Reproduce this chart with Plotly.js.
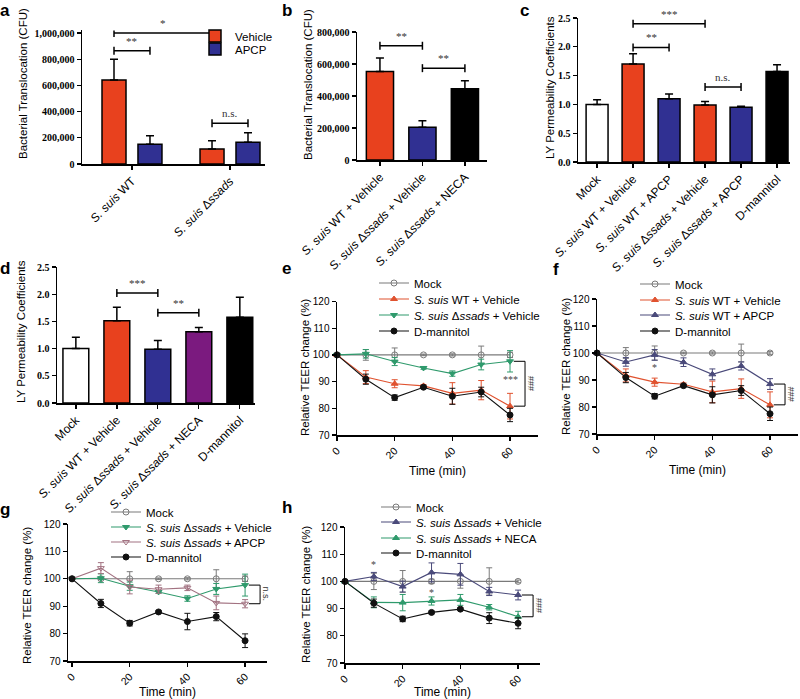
<!DOCTYPE html>
<html><head><meta charset="utf-8">
<script src="https://cdn.plot.ly/plotly-3.0.1.min.js"></script>
<style>html,body{margin:0;padding:0;background:#fff}#chart{width:800px;height:699px}</style>
</head><body><div id="chart"></div>
<script>
// ---------------- DATA ----------------
// Panel a
const catA = ['<i>S. suis</i> WT', '<i>S. suis</i> Δ<i>ssads</i>'];
const vehA = [641000, 115000];
const vehAErr = [159000, 63000];
const apcpA = [150000, 166000];
const apcpAErr = [66000, 73000];
// brackets: [group1, series1, group2, series2, level, label]  series 0=Vehicle 1=APCP
const sigA = [[0,0,1,0,1000000,'*'],[0,0,0,1,865000,'**'],[1,0,1,1,311000,'n.s.']];

// Panel b
const catB = ['<i>S. suis</i> WT + Vehicle', '<i>S. suis</i> Δ<i>ssads</i> + Vehicle', '<i>S. suis</i> Δ<i>ssads</i> + NECA'];
const valB = [553000, 205000, 445000];
const errB = [84000, 41000, 50000];
const sigB = [[0,1,714000,'**'],[1,2,574000,'**']];

// Panel c
const catC = ['Mock', '<i>S. suis</i> WT + Vehicle', '<i>S. suis</i> WT + APCP', '<i>S. suis</i> Δ<i>ssads</i> + Vehicle', '<i>S. suis</i> Δ<i>ssads</i> + APCP', 'D-mannitol'];
const valC = [1.00, 1.70, 1.10, 0.99, 0.95, 1.57];
const errC = [0.08, 0.18, 0.08, 0.06, 0.02, 0.12];
const sigC = [[1,3,2.40,'***'],[1,2,1.99,'**'],[3,4,1.30,'n.s.']];

// Panel d
const catD = ['Mock', '<i>S. suis</i> WT + Vehicle', '<i>S. suis</i> Δ<i>ssads</i> + Vehicle', '<i>S. suis</i> Δ<i>ssads</i> + NECA', 'D-mannitol'];
const valD = [1.00, 1.51, 0.99, 1.31, 1.575];
const errD = [0.21, 0.25, 0.16, 0.08, 0.37];
const sigD = [[1,2,2.02,'***'],[2,3,1.66,'**']];

// Time course panels
const time = [0, 10, 20, 30, 40, 50, 60];
const timeTicks = [0, 20, 40, 60];
const yTicksTEER = [70, 80, 90, 100, 110, 120];

// e
const mockE = [100, 100, 100, 100, 100, 100, 100];
const mockEErr = [0, 2, 2.6, 0.3, 0.4, 3.3, 1];
const wtVehE = [100, 91.7, 89.2, 88.4, 85.6, 86.8, 80.8];
const wtVehEErr = [0, 2.4, 1.5, 0.5, 4, 3.6, 4.8];
const ssVehE = [100, 100.4, 97.5, 95.1, 93.0, 96.4, 97.6];
const ssVehEErr = [0, 1.6, 1.5, 0.5, 1, 2, 4];
const dmanE = [100, 90.9, 84.0, 87.9, 84.5, 86.1, 77.5];
const dmanEErr = [0, 1.9, 1, 0.5, 3, 1.8, 2.5];

// f
const mockF = [100, 100, 100, 100, 100, 100, 100];
const mockFErr = [0, 2, 2.6, 0.3, 0.4, 3.3, 0.5];
const wtVehF = [100, 91.7, 89.2, 88.4, 85.6, 86.8, 80.8];
const wtVehFErr = [0, 2.4, 1.5, 0.5, 4, 3.6, 4.8];
const wtApcpF = [100, 96.7, 99.3, 96.6, 92.1, 95.2, 88.5];
const wtApcpFErr = [0, 1.6, 2, 1.6, 2, 1.5, 2];
const dmanF = [100, 90.9, 84.0, 87.9, 84.5, 86.1, 77.5];
const dmanFErr = [0, 1.9, 1, 0.5, 3, 1.8, 2.5];

// g
const mockG = [100, 100, 100, 100, 100, 100, 100];
const mockGErr = [0, 0.3, 2.6, 0.3, 0.4, 3.3, 1];
const ssVehG = [100, 100.2, 97.3, 95.2, 92.8, 96.3, 97.7];
const ssVehGErr = [0, 1.6, 1.5, 0.5, 1, 2, 4];
const ssApcpG = [100, 103.9, 97.0, 96.2, 96.7, 91.2, 90.9];
const ssApcpGErr = [0, 2, 2.5, 1.5, 1, 2.5, 1.5];
const dmanG = [100, 91.0, 83.8, 87.9, 84.4, 86.2, 77.4];
const dmanGErr = [0, 1.5, 1, 0.5, 3, 1.5, 2.5];

// h
const mockH = [100, 100, 100, 100, 100, 100, 100];
const mockHErr = [0, 3, 4, 0.8, 2.5, 5, 0.5];
const ssVehH = [100, 101.8, 98.1, 103.3, 102.6, 96.3, 95.0];
const ssVehHErr = [0, 1.5, 2, 3.5, 4, 1.5, 1.8];
const ssNecaH = [100, 92.3, 92.2, 92.8, 93.2, 90.5, 87.0];
const ssNecaHErr = [0, 2, 3, 1.5, 2, 1, 2];
const dmanH = [100, 92.0, 86.2, 88.6, 89.8, 86.5, 84.6];
const dmanHErr = [0, 1.5, 1, 0.5, 0.5, 2, 2];

// significance marks on time panels: [xValue, yValue, label]
const starsE = [[60, 90.6, '***']];
const starsF = [[20, 94.5, '*']];
const starsH = [[10, 106.3, '*'], [30, 95.8, '*']];
// right-side brackets: [yTop, yBottom, label]
const brE = [97.6, 80.8, '###'];
const brF = [88.5, 80.8, '###'];
const brG = [97.7, 90.9, 'n.s.'];
const brH = [95.0, 87.0, '###'];

// ---------------- STYLE ----------------
const W = 800, H = 699;
const SANS = '"Liberation Sans", Arial, sans-serif';
const SERIF = '"Liberation Serif", "Times New Roman", serif';
const RED = '#e8411e', BLUE = '#303092', PURPLE = '#7b1a7f', BLK = '#000000';
const C_MOCK = '#7a7a7a', C_RED = '#e0522f', C_GREEN = '#2f9a6c', C_SLATE = '#4a4a7a', C_MAUVE = '#a27281', C_DM = '#111111';

const px = p => p / W;
const py = p => 1 - p / H;
const dom = (a, b) => [px(a), px(b)];
const domY = (top, bottom) => [py(bottom), py(top)];

const traces = [];
const layout = {
  width: W, height: H, margin: {l: 0, r: 0, t: 0, b: 0},
  paper_bgcolor: '#ffffff', plot_bgcolor: 'rgba(0,0,0,0)',
  showlegend: true, shapes: [], annotations: [], hovermode: false,
  font: {family: SANS, color: '#000'}
};

let legendCount = 0;
function legendFor(textX, rowY) {
  legendCount++;
  const name = legendCount === 1 ? 'legend' : 'legend' + legendCount;
  layout[name] = {
    x: px(textX - 43), y: py(rowY), xanchor: 'left', yanchor: 'middle',
    bgcolor: 'rgba(0,0,0,0)', borderwidth: 0, itemwidth: 30,
    font: {family: SANS, size: 11.5, color: '#000'}, itemclick: false, itemdoubleclick: false
  };
  return name;
}

function yTitle(text, x, y) {
  layout.annotations.push({xref: 'paper', yref: 'paper', x: px(x), y: py(y), text: text, textangle: -90,
    showarrow: false, xanchor: 'center', yanchor: 'middle', font: {family: SANS, size: 11.5, color: '#000'}});
}

function barXAxis(domain, range, cats, anchor) {
  return {
    domain: domain, range: range, anchor: anchor, type: 'linear',
    tickvals: cats.map((c, i) => i), ticktext: cats, tickangle: -45,
    ticks: 'outside', ticklen: 4, tickwidth: 1.3, tickcolor: '#000',
    showline: true, linewidth: 1.5, linecolor: '#000', showgrid: false, zeroline: false,
    tickfont: {family: SANS, size: 12, color: '#000'}, fixedrange: true
  };
}
function barYAxis(domain, range, dtick, fmt, anchor) {
  return {
    domain: domain, range: range, anchor: anchor, dtick: dtick, tick0: 0, tickformat: fmt,
    ticks: 'outside', ticklen: 4, tickwidth: 1.3, tickcolor: '#000',
    showline: true, linewidth: 1.5, linecolor: '#000', showgrid: false, zeroline: false,
    tickfont: {family: SERIF, size: 10, weight: 'bold', color: '#000'},
    fixedrange: true
  };
}
function timeXAxis(domain, range, anchor) {
  return {
    domain: domain, range: range, anchor: anchor, tickvals: timeTicks, tickangle: -45,
    ticks: 'outside', ticklen: 4, tickwidth: 1.3, tickcolor: '#000',
    showline: true, linewidth: 1.5, linecolor: '#000', showgrid: false, zeroline: false,
    tickfont: {family: SANS, size: 10.5, color: '#000'},
    title: {text: 'Time (min)', font: {family: SANS, size: 12, color: '#000'}, standoff: 6},
    fixedrange: true
  };
}
function timeYAxis(domain, anchor) {
  return {
    domain: domain, range: [70, 120], anchor: anchor, tickvals: yTicksTEER,
    ticks: 'outside', ticklen: 4, tickwidth: 1.3, tickcolor: '#000',
    showline: true, linewidth: 1.5, linecolor: '#000', showgrid: false, zeroline: false,
    tickfont: {family: SANS, size: 10, color: '#000'},
    fixedrange: true
  };
}

function errBar(arr) {
  return {type: 'data', symmetric: false, array: arr, arrayminus: arr.map(() => 0),
          visible: true, color: '#000', thickness: 1.5, width: 4};
}

function sigBracket(xa, ya, x1, x2, level, label) {
  layout.shapes.push({type: 'line', xref: xa, yref: ya, x0: x1, x1: x2, y0: level, y1: level, line: {color: '#000', width: 1.5}});
  [x1, x2].forEach(x => layout.shapes.push({type: 'line', xref: xa, yref: ya, x0: x, x1: x,
    ysizemode: 'pixel', yanchor: level, y0: -4, y1: 4, line: {color: '#000', width: 1.5}}));
  layout.annotations.push({xref: xa, yref: ya, x: (x1 + x2) / 2, y: level, text: label, showarrow: false,
    yanchor: 'bottom', yshift: 2, font: {family: SERIF, size: 11, color: '#333'}});
}

// ---------------- PANEL a ----------------
const offA = [-0.306, 0.061], widA = 0.245;
layout.xaxis = barXAxis(dom(82, 265), [-0.51, 1.357], catA, 'y');
layout.yaxis = barYAxis(domY(164 - 131 * 1.02, 164), [0, 1020000], 200000, ',', 'x');
yTitle('Bacterial Translocation (CFU)', 23, 84);
[[vehA, vehAErr, RED, 'Vehicle', 36], [apcpA, apcpAErr, BLUE, 'APCP', 49]].forEach((s, k) => {
  traces.push({type: 'bar', x: catA.map((c, i) => i), y: s[0], offset: offA[k], width: widA,
    marker: {color: s[2], line: {color: '#000', width: 1.5}}, error_y: errBar(s[1]),
    xaxis: 'x', yaxis: 'y', name: s[3], legend: legendFor(238, s[4])});
});
sigA.forEach(s => sigBracket('x', 'y', s[0] + offA[s[1]] + widA / 2, s[2] + offA[s[3]] + widA / 2, s[4], s[5]));

// ---------------- PANEL b ----------------
layout.xaxis2 = barXAxis(dom(357, 487), [-0.54, 2.52], catB, 'y2');
layout.yaxis2 = barYAxis(domY(32, 160), [0, 800000], 200000, ',', 'x2');
yTitle('Bacterial Translocation (CFU)', 308, 85);
traces.push({type: 'bar', x: catB.map((c, i) => i), y: valB, width: 0.64,
  marker: {color: [RED, BLUE, BLK], line: {color: '#000', width: 1.5}}, error_y: errBar(errB),
  xaxis: 'x2', yaxis: 'y2', showlegend: false});
sigB.forEach(s => sigBracket('x2', 'y2', s[0], s[1], s[2], s[3]));

// ---------------- PANEL c ----------------
layout.xaxis3 = barXAxis(dom(578, 790), [-0.53, 5.36], catC, 'y3');
layout.yaxis3 = barYAxis(domY(18, 162), [0, 2.5], 0.5, '.1f', 'x3');
yTitle('LY Permeability Coefficients', 550, 88);
traces.push({type: 'bar', x: catC.map((c, i) => i), y: valC, width: 0.61,
  marker: {color: ['#ffffff', RED, BLUE, RED, BLUE, BLK], line: {color: '#000', width: 1.5}}, error_y: errBar(errC),
  xaxis: 'x3', yaxis: 'y3', showlegend: false});
sigC.forEach(s => sigBracket('x3', 'y3', s[0], s[1], s[2], s[3]));

// ---------------- PANEL d ----------------
layout.xaxis4 = barXAxis(dom(57, 255), [-0.46, 4.37], catD, 'y4');
layout.yaxis4 = barYAxis(domY(267, 403), [0, 2.5], 0.5, '.1f', 'x4');
yTitle('LY Permeability Coefficients', 21, 332);
traces.push({type: 'bar', x: catD.map((c, i) => i), y: valD, width: 0.63,
  marker: {color: ['#ffffff', RED, BLUE, PURPLE, BLK], line: {color: '#000', width: 1.5}}, error_y: errBar(errD),
  xaxis: 'x4', yaxis: 'y4', showlegend: false});
sigD.forEach(s => sigBracket('x4', 'y4', s[0], s[1], s[2], s[3]));

// ---------------- TIME PANELS ----------------
function series(xa, ya, y, err, color, symbol, name, legX, legY) {
  traces.push({type: 'scatter', mode: 'lines+markers', x: time, y: y, xaxis: xa, yaxis: ya,
    line: {color: color, width: 1.1},
    marker: {symbol: symbol, size: 6, color: color, line: {color: color, width: 1}},
    error_y: {type: 'data', array: err, visible: true, color: color, thickness: 1, width: 3},
    cliponaxis: false, name: name, legend: legendFor(legX, legY)});
}
function sideBracket(xa, ya, br) {
  const [yt, yb, label] = br;
  const xa0 = 61.3, xa1 = 65.2;
  layout.shapes.push({type: 'line', xref: xa, yref: ya, x0: xa0, x1: xa1, y0: yt, y1: yt, line: {color: '#000', width: 1}});
  layout.shapes.push({type: 'line', xref: xa, yref: ya, x0: xa0, x1: xa1, y0: yb, y1: yb, line: {color: '#000', width: 1}});
  layout.shapes.push({type: 'line', xref: xa, yref: ya, x0: xa1, x1: xa1, y0: yt, y1: yb, line: {color: '#000', width: 1}});
  layout.annotations.push({xref: xa, yref: ya, x: 67.2, y: (yt + yb) / 2, text: label, textangle: 90,
    showarrow: false, font: {family: SANS, size: 9, color: '#333'}});
}
function stars(xa, ya, arr) {
  arr.forEach(s => layout.annotations.push({xref: xa, yref: ya, x: s[0], y: s[1], text: s[2], showarrow: false,
    font: {family: SERIF, size: 10, color: '#444'}}));
}
const MOCK = 'Mock', DM = 'D-mannitol';
const WTV = '<i>S. suis</i> WT + Vehicle', WTA = '<i>S. suis</i> WT + APCP';
const SSV = '<i>S. suis</i> Δ<i>ssads</i> + Vehicle', SSA = '<i>S. suis</i> Δ<i>ssads</i> + APCP', SSN = '<i>S. suis</i> Δ<i>ssads</i> + NECA';
const TEER = 'Relative TEER change (%)';

// e
layout.xaxis5 = timeXAxis(dom(337, 538), [0, 69.7], 'y5');
layout.yaxis5 = timeYAxis(domY(301.5, 435), 'x5');
yTitle(TEER, 305, 368);
series('x5', 'y5', mockE, mockEErr, C_MOCK, 'circle-open', MOCK, 417, 283);
series('x5', 'y5', wtVehE, wtVehEErr, C_RED, 'triangle-up', WTV, 417, 299);
series('x5', 'y5', ssVehE, ssVehEErr, C_GREEN, 'triangle-down', SSV, 417, 315);
series('x5', 'y5', dmanE, dmanEErr, C_DM, 'circle', DM, 417, 331);
stars('x5', 'y5', starsE);
sideBracket('x5', 'y5', brE);

// f
layout.xaxis6 = timeXAxis(dom(597, 798), [0, 69.7], 'y6');
layout.yaxis6 = timeYAxis(domY(299, 434), 'x6');
yTitle(TEER, 566, 367);
series('x6', 'y6', mockF, mockFErr, C_MOCK, 'circle-open', MOCK, 678, 284);
series('x6', 'y6', wtVehF, wtVehFErr, C_RED, 'triangle-up', WTV, 678, 300);
series('x6', 'y6', wtApcpF, wtApcpFErr, C_SLATE, 'triangle-up', WTA, 678, 315);
series('x6', 'y6', dmanF, dmanFErr, C_DM, 'circle', DM, 678, 331);
stars('x6', 'y6', starsF);
sideBracket('x6', 'y6', brF);

// g
layout.xaxis7 = timeXAxis(dom(68, 267), [-1.4, 67.6], 'y7');
layout.yaxis7 = timeYAxis(domY(524, 661), 'x7');
yTitle(TEER, 27, 596);
series('x7', 'y7', mockG, mockGErr, C_MOCK, 'circle-open', MOCK, 149, 512);
series('x7', 'y7', ssVehG, ssVehGErr, C_GREEN, 'triangle-down', SSV, 149, 527);
series('x7', 'y7', ssApcpG, ssApcpGErr, C_MAUVE, 'triangle-down-open', SSA, 149, 542);
series('x7', 'y7', dmanG, dmanGErr, C_DM, 'circle', DM, 149, 557);
sideBracket('x7', 'y7', brG);

// h
layout.xaxis8 = timeXAxis(dom(345, 540), [0, 67.6], 'y8');
layout.yaxis8 = timeYAxis(domY(527, 663), 'x8');
yTitle(TEER, 306, 595);
series('x8', 'y8', mockH, mockHErr, C_MOCK, 'circle-open', MOCK, 419, 507);
series('x8', 'y8', ssVehH, ssVehHErr, C_SLATE, 'triangle-up', SSV, 419, 522);
series('x8', 'y8', ssNecaH, ssNecaHErr, C_GREEN, 'triangle-up', SSN, 419, 538);
series('x8', 'y8', dmanH, dmanHErr, C_DM, 'circle', DM, 419, 553);
stars('x8', 'y8', starsH);
sideBracket('x8', 'y8', brH);

// panel letters
[['a', 5, 11], ['b', 287, 11], ['c', 524, 11], ['d', 5, 268], ['e', 286, 268], ['f', 556, 269], ['g', 5, 509], ['h', 287, 508]]
  .forEach(l => layout.annotations.push({xref: 'paper', yref: 'paper', x: px(l[1]), y: py(l[2]),
    text: '<b>' + l[0] + '</b>', showarrow: false, xanchor: 'center', yanchor: 'middle',
    font: {family: SANS, size: 17, color: '#000'}}));

Plotly.newPlot('chart', traces, layout, {staticPlot: true, displayModeBar: false});
</script></body></html>
